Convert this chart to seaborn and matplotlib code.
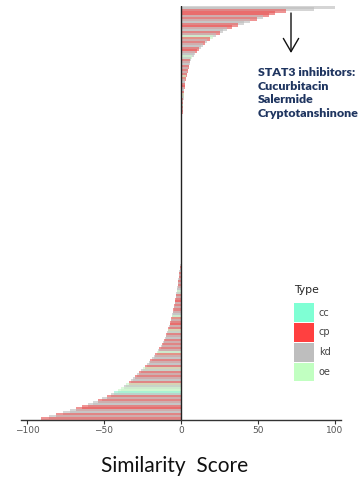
import matplotlib
matplotlib.use("Agg")
import matplotlib.pyplot as plt
from matplotlib.patches import Patch
import pandas as pd
import seaborn as sns

# Similarity scores, ranked from highest to lowest
top_scores = [
    100, 86, 68, 61, 57, 53, 49, 45, 41, 37,
    33, 30, 27.5, 25, 22.5, 20.5, 18.5, 17, 15.5, 14,
    12.8, 11.6, 10.5, 9.3, 8.3, 7.4, 6.6, 6.0, 5.6, 5.2,
    4.9, 4.6, 4.3, 4.0, 3.7, 3.4, 3.1, 2.9, 2.7, 2.5,
    2.3, 2.1, 2.0, 1.9, 1.8, 1.7, 1.6, 1.5, 1.4, 1.3,
    1.2, 1.1, 1.0, 0.9, 0.8, 0.7, 0.6, 0.5,
]
middle_scores = [
    0.4, 0.3, 0.25, 0.2, 0.15, 0.12, 0.1, 0.08, 0.06, 0.05,
    0.04, 0.03, 0.02, 0.01, 0.0, 0.0, 0.0, 0.0, 0.0, 0.0,
    0.0, 0.0, 0.0, 0.0, 0.0, 0.0, 0.0, 0.0, 0.0, 0.0,
    0.0, 0.0, 0.0, 0.0, 0.0, 0.0, 0.0, 0.0, 0.0, 0.0,
    0.0, 0.0, 0.0, 0.0, 0.0, 0.0, 0.0, 0.0, 0.0, 0.0,
    0.0, 0.0, 0.0, 0.0, 0.0, 0.0, -0.01, -0.01, -0.02, -0.02,
    -0.03, -0.04, -0.05, -0.06, -0.08, -0.1, -0.12, -0.15, -0.18, -0.22,
]
bottom_scores = [
    -0.3, -0.5, -0.7, -0.9, -1.0, -1.2, -1.4, -1.5, -1.7, -1.9,
    -2.0, -2.2, -2.4, -2.6, -2.8, -3.0, -3.2, -3.4, -3.6, -3.9,
    -4.1, -4.4, -4.7, -5.0, -5.3, -5.6, -6.0, -6.3, -6.7, -7.0,
    -7.4, -7.8, -8.2, -8.6, -9.0, -9.5, -10.0, -10.6, -11.2, -11.8,
    -12.5, -13.2, -14.0, -14.8, -15.7, -16.7, -17.8, -19.0, -20.0, -21.0,
    -22.2, -23.4, -24.6, -25.8, -27.0, -28.4, -29.8, -31.2, -32.6, -34.0,
    -35.6, -37.2, -39.0, -41.0, -43.2, -45.6, -48.2, -51.0, -54.0, -57.0,
    -60.4, -64.0, -68.0, -72.0, -76.5, -81.0, -86.0, -91.0,
]

# Perturbation type of each ranked entry (c=cc, p=cp, k=kd, o=oe)
top_types = "kkpppkpkkp pkkpkopkpk kppkkokpkk pkpkpopkkp pkkpokpkpc pkpkkppk"
middle_types = ("pkpkopkpkp kppkokpkpp kpkpkpopkp pkkpokpkpp "
                "kpkpcpkpkp pkokpkppkp kpkpopkpkp")
bottom_types = ("pkpkkpkpkp kpkkokpkpp kpkpkkopkp pkpokpkkpk "
                "pkpkopkkpk kpokpkpkkp okoockpkpk kppkkpkp")

type_names = {"c": "cc", "p": "cp", "k": "kd", "o": "oe"}
type_order = ["cc", "cp", "kd", "oe"]
type_colors = ["#7FFFD4", "#FF4040", "#BEBEBE", "#C1FFC1"]
type_palette = dict(zip(type_order, type_colors))

scores = top_scores + middle_scores + bottom_scores
codes = (top_types + middle_types + bottom_types).replace(" ", "")
df = pd.DataFrame({
    "rank": [str(i) for i in range(len(scores))],
    "score": scores,
    "Type": [type_names[c] for c in codes],
})

# One colour per ranked bar, taken from its type, so bars stack in rank order
bar_palette = dict(zip(df["rank"], df["Type"].map(type_palette)))

sns.set_style("white")
plt.rcParams["font.family"] = ["DejaVu Sans"]

fig = plt.figure(figsize=(3.59, 4.83), dpi=100)
ax = fig.add_axes([0.058, 0.1304, 0.8925, 0.857])

# Overlapping translucent bars so neighbouring types blend together
sns.barplot(
    data=df, x="score", y="rank", hue="rank", order=list(df["rank"]),
    hue_order=list(df["rank"]), palette=bar_palette, orient="h",
    dodge=False, width=2.0, errorbar=None, linewidth=0, alpha=0.64,
    legend=False, ax=ax,
)
ax.set_ylim(len(scores) - 0.5, -0.5)

ax.axvline(0, color="#222222", lw=1.0, zorder=5)
ax.set_xlim(-104, 104)
ax.set_xticks([-100, -50, 0, 50, 100])
ax.set_yticks([])
ax.set_ylabel("")
ax.set_xlabel("")
sns.despine(ax=ax, left=True, top=True, right=True)
ax.spines["bottom"].set_color("#333333")
ax.spines["bottom"].set_linewidth(1.0)
ax.tick_params(axis="x", which="both", bottom=True, length=3, width=0.8,
               color="#333333", labelsize=6.5, labelcolor="#555555", pad=1.5)

fig.text(0.485, 1 - 466 / 483, "Similarity  Score", ha="center", va="center",
         fontsize=15, family="Lato", color="#111111")

# Highlighted hits
fig.text(258 / 359, 1 - 67 / 483,
         "STAT3 inhibitors:\nCucurbitacin\nSalermide\nCryptotanshinone",
         ha="left", va="top", fontsize=8.9, fontweight="heavy",
         family="Lato", color="#1F3560", linespacing=1.3)
ax.annotate("", xy=(291 / 359, 1 - 53 / 483), xytext=(291 / 359, 1 - 13 / 483),
            xycoords="figure fraction", textcoords="figure fraction",
            arrowprops=dict(arrowstyle="->, head_length=0.95, head_width=0.55",
                            color="#111111", lw=1.0, shrinkA=0, shrinkB=0))

handles = [Patch(facecolor=c, edgecolor="none", label=n)
           for n, c in zip(type_order, type_colors)]
leg = fig.legend(handles=handles, title="Type", loc="upper left",
                 bbox_to_anchor=(289 / 359, 1 - 280 / 483), frameon=False,
                 fontsize=7, title_fontsize=7.8, handlelength=2.1,
                 handleheight=2.6, labelspacing=0.1, handletextpad=0.45,
                 borderpad=0, alignment="left")
leg._legend_box.sep = 6
for t in leg.get_texts():
    t.set_color("#444444")

fig.savefig("out.png", dpi=100)
